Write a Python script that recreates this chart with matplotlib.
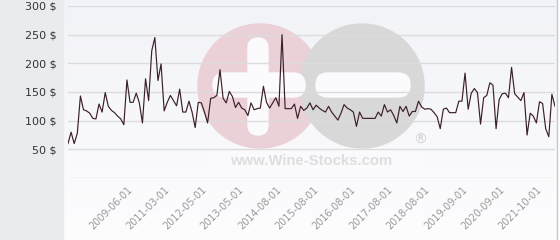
import numpy as np
import matplotlib
matplotlib.use("Agg")
import matplotlib.pyplot as plt
from matplotlib.patches import Circle, Rectangle, FancyBboxPatch

# prix relevés (un point par cotation)
prices = [60, 80, 60, 78, 143, 119, 117, 113, 104, 103,
          129, 115, 149, 125, 118, 114, 108, 103, 93, 171,
          132, 132, 148, 131, 96, 173, 135, 222, 245, 170,
          199, 117, 132, 144, 135, 126, 155, 115, 115, 134,
          115, 88, 132, 131, 115, 96, 139, 140, 144, 189,
          139, 131, 151, 142, 123, 132, 122, 119, 109, 131,
          119, 121, 122, 160, 132, 122, 131, 140, 125, 250,
          121, 121, 121, 129, 104, 125, 118, 122, 131, 119,
          127, 122, 118, 115, 125, 115, 108, 101, 113, 128,
          122, 119, 115, 90, 115, 104, 104, 104, 104, 104,
          115, 108, 128, 115, 119, 109, 96, 125, 116, 125,
          108, 116, 116, 134, 124, 120, 121, 120, 114, 107,
          86, 120, 122, 114, 114, 114, 134, 134, 183, 120,
          148, 156, 149, 94, 140, 144, 166, 162, 86, 137,
          147, 148, 140, 193, 147, 141, 135, 149, 75, 113,
          108, 96, 133, 130, 86, 72, 146, 125]

tick_labels = ["2009-06-01", "2011-03-01", "2012-05-01", "2013-05-01",
               "2014-08-01", "2015-08-01", "2016-08-01", "2017-08-01",
               "2018-08-01", "2019-09-01", "2020-09-01", "2021-10-01"]
tick_idx = list(range(19, 158, 12))

y_ticks = [0, 50, 100, 150, 200, 250, 300]

W, H = 560, 240
fig = plt.figure(figsize=(W / 100, H / 100), dpi=100)

# fond + filigrane, en pixels
bg = fig.add_axes([0, 0, 1, 1], zorder=0)
bg.set_xlim(0, W)
bg.set_ylim(H, 0)
bg.axis("off")
grad = np.linspace(0, 1, 100).reshape(-1, 1)
bg.imshow(grad, extent=[63, 557, H, 0], cmap=matplotlib.colors.LinearSegmentedColormap.from_list(
    "g", ["#f2f3f8", "#fdfdfe"]), aspect="auto", zorder=0)
bg.add_patch(Rectangle((0, 0), 63, H, color="#e8ecef", zorder=1))
bg.plot([557, 557], [0, H], color="#c8c8c8", lw=1, zorder=1)

bg.add_patch(Circle((260, 86), 62, color="#ebd0d8", zorder=2))
bg.add_patch(Circle((362, 86), 62, color="#d8d8d8", zorder=3))
white = "#fbfbfd"
bg.add_patch(FancyBboxPatch((248, 38), 20, 97, boxstyle="round,pad=0,rounding_size=10",
                            color=white, zorder=4))
bg.add_patch(FancyBboxPatch((213, 73), 92, 24, boxstyle="round,pad=0,rounding_size=12",
                            color=white, zorder=4))
bg.add_patch(FancyBboxPatch((316, 73), 94, 24, boxstyle="round,pad=0,rounding_size=12",
                            color=white, zorder=4))
bg.add_patch(Rectangle((205, 150), 220, 22, color="white", alpha=0.3, lw=0, zorder=4))
bg.text(311, 161, "www.Wine-Stocks.com", ha="center", va="center",
        fontsize=10.7, fontweight="bold", family="Liberation Sans", color="#dedede", zorder=5)
bg.text(420, 140, "®", ha="center", va="center", fontsize=10, color="#d0d0d0", zorder=5)

# graphique
ax = fig.add_axes([68 / W, (H - 178) / H, (555 - 68) / W, (178 - 6) / H], zorder=1)
ax.patch.set_alpha(0)
x = np.arange(len(prices))
ax.plot(x, prices, color="#3b1f29", lw=0.85, zorder=3)
ax.set_xlim(0, len(prices) - 1)
ax.set_ylim(0, 300)
ax.set_yticks(y_ticks)
ax.set_yticklabels(["" if v == 0 else f"{v} $" for v in y_ticks], fontsize=8, color="#333333")
ax.yaxis.grid(True, color="#dcdcdc", lw=1)
ax.set_axisbelow(True)
ax.tick_params(axis="y", length=0, pad=8)
ax.set_xticks(tick_idx)
ax.set_xticklabels(tick_labels, rotation=45, ha="right", va="top",
                   rotation_mode="anchor", fontsize=7, color="#999999")
ax.tick_params(axis="x", length=0, pad=5)
for s in ax.spines.values():
    s.set_visible(False)

fig.savefig("out.png", dpi=100)
